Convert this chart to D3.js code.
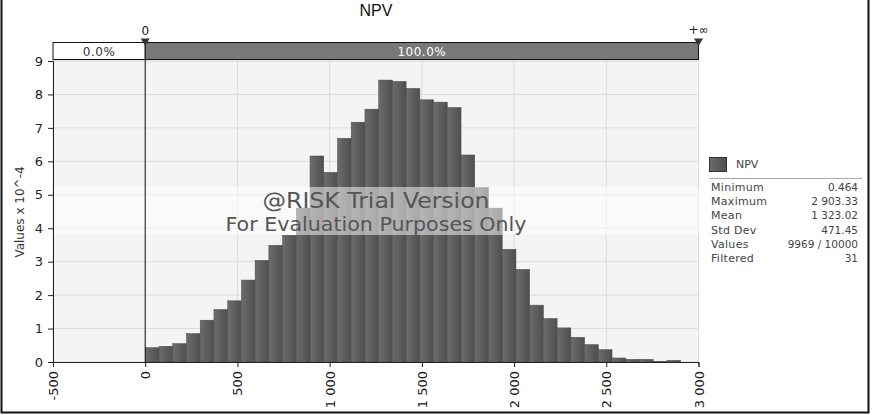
<!DOCTYPE html>
<html>
<head>
<meta charset="utf-8">
<script src="https://cdn.jsdelivr.net/npm/d3@7"></script>
<style>
  body { margin: 0; background: #fff; }
  svg { display: block; font-family: "DejaVu Sans", Verdana, sans-serif; }
</style>
</head>
<body>
<div class="plot"></div>
<script>
// histogram data (values x 10^-4 per bin)
const binLow = 0.464;
const binHigh = 2903.33;
const density = [0.43, 0.47, 0.55, 0.85, 1.25, 1.57, 1.83, 2.45, 3.04, 3.49,
                 3.79, 4.60, 6.16, 5.67, 6.69, 7.17, 7.56, 8.43, 8.39, 8.18,
                 7.84, 7.77, 7.61, 6.19, 5.22, 4.60, 3.37, 2.77, 1.70, 1.30,
                 1.02, 0.74, 0.52, 0.37, 0.12, 0.08, 0.08, 0.02, 0.05];
const xTicks = [-500, 0, 500, 1000, 1500, 2000, 2500, 3000];
const yTicks = [0, 1, 2, 3, 4, 5, 6, 7, 8, 9];
const delimiters = [0, 3000];
const delimiterLabels = ["0", "+\u221e"];
const pctLabels = ["0.0%", "100.0%"];
const statLabels = ["Minimum", "Maximum", "Mean", "Std Dev", "Values", "Filtered"];
const statValues = ["0.464", "2 903.33", "1 323.02", "471.45", "9969 / 10000", "31"];

const W = 872, H = 415;
const plot = {left: 53, right: 698.5, top: 61, bottom: 362};

const svg = d3.select(".plot")
  .append("svg")
    .attr("width", W)
    .attr("height", H);

const x = d3.scaleLinear().domain([-500, 3000]).range([plot.left, plot.right]);
const y = d3.scaleLinear().domain([0, 9]).range([plot.bottom, plot.top]);

// bar gradient
const grad = svg.append("defs").append("linearGradient")
  .attr("id", "barGrad").attr("x1", "0").attr("x2", "1").attr("y1", "0").attr("y2", "0");
grad.append("stop").attr("offset", "0").attr("stop-color", "#6c6c6c");
grad.append("stop").attr("offset", "1").attr("stop-color", "#4f4f4f");

// plot background
svg.append("rect")
  .attr("x", plot.left).attr("y", plot.top)
  .attr("width", plot.right - plot.left).attr("height", plot.bottom - plot.top)
  .attr("fill", "#f4f4f4")
  .attr("stroke", "#dcdcdc");

// grid
svg.append("g").selectAll("line")
  .data(yTicks.slice(1))
  .join("line")
    .attr("x1", plot.left).attr("x2", plot.right)
    .attr("y1", d => y(d)).attr("y2", d => y(d))
    .attr("stroke", "#dcdcdc");
svg.append("g").selectAll("line")
  .data(xTicks.slice(1, -1))
  .join("line")
    .attr("x1", d => x(d)).attr("x2", d => x(d))
    .attr("y1", plot.top).attr("y2", plot.bottom)
    .attr("stroke", "#dcdcdc");

// bars
const bw = (binHigh - binLow) / density.length;
svg.append("g").selectAll("rect")
  .data(density)
  .join("rect")
    .attr("x", (d, i) => x(binLow + i * bw))
    .attr("width", (d, i) => x(binLow + (i + 1) * bw) - x(binLow + i * bw))
    .attr("y", d => y(d))
    .attr("height", d => plot.bottom - y(d))
    .attr("fill", "url(#barGrad)")
    .attr("stroke", "#4a4a4a")
    .attr("stroke-width", 0.5);

// watermark band + text
svg.append("rect")
  .attr("x", plot.left).attr("y", 187)
  .attr("width", plot.right - plot.left).attr("height", 48)
  .attr("fill", "#fff").attr("opacity", 0.5);
svg.append("text")
  .attr("x", 376).attr("y", 208)
  .attr("text-anchor", "middle")
  .attr("textLength", 227).attr("lengthAdjust", "spacingAndGlyphs")
  .style("font-size", "21px").style("fill", "#555")
  .text("@RISK Trial Version");
svg.append("text")
  .attr("x", 376).attr("y", 231)
  .attr("text-anchor", "middle")
  .attr("textLength", 301).attr("lengthAdjust", "spacingAndGlyphs")
  .style("font-size", "19px").style("fill", "#555")
  .text("For Evaluation Purposes Only");

// axes
const yAxis = svg.append("g")
  .attr("transform", `translate(${plot.left},0)`)
  .call(d3.axisLeft(y).tickValues(yTicks).tickSize(5).tickPadding(5));
const xAxis = svg.append("g")
  .attr("transform", `translate(0,${plot.bottom})`)
  .call(d3.axisBottom(x).tickValues(xTicks).tickSize(5)
    .tickFormat(d => String(d).replace(/\B(?=(\d{3})+$)/g, " ")));
[yAxis, xAxis].forEach(a => {
  a.select(".domain").attr("stroke", "#222");
  a.selectAll(".tick line").attr("stroke", "#222");
  a.selectAll("text").style("font-size", "13px").style("fill", "#222")
    .style("font-family", "DejaVu Sans, sans-serif");
});
xAxis.selectAll(".tick text")
  .attr("transform", "rotate(-90)")
  .attr("x", -9).attr("y", 0).attr("dy", "0.35em")
  .attr("text-anchor", "end");

svg.append("text")
  .attr("transform", "translate(24,212) rotate(-90)")
  .attr("text-anchor", "middle")
  .style("font-size", "12px").style("fill", "#333")
  .text("Values x 10^-4");

// delimiter line
svg.append("line")
  .attr("x1", x(delimiters[0])).attr("x2", x(delimiters[0]))
  .attr("y1", 42).attr("y2", plot.bottom)
  .attr("stroke", "#111");

// percentage bar on top
const pctBand = [[-500, 0], [0, 3000]];
svg.append("g").selectAll("rect")
  .data(pctBand)
  .join("rect")
    .attr("x", d => x(d[0])).attr("y", 42.5)
    .attr("width", d => x(d[1]) - x(d[0])).attr("height", 17)
    .attr("fill", (d, i) => i ? "#787878" : "#fff")
    .attr("stroke", "#111");
svg.append("g").selectAll("text")
  .data(pctBand)
  .join("text")
    .attr("x", d => (x(d[0]) + x(d[1])) / 2).attr("y", 55.5)
    .attr("text-anchor", "middle")
    .style("font-size", "12px")
    .style("letter-spacing", "0.5px")
    .style("fill", (d, i) => i ? "#fff" : "#333")
    .text((d, i) => pctLabels[i]);

// delimiter markers
const marks = svg.append("g").selectAll("g")
  .data(delimiters)
  .join("g")
    .attr("transform", d => `translate(${x(d)},0)`);
marks.append("path")
  .attr("d", "M-4.5,38.5 L4.5,38.5 L0,46 Z")
  .attr("fill", "#333");
marks.append("text")
  .attr("y", (d, i) => i ? 34 : 35)
  .attr("text-anchor", "middle")
  .style("font-size", "12px").style("fill", "#222")
  .text((d, i) => delimiterLabels[i]);

// title
svg.append("text")
  .attr("x", 376).attr("y", 16)
  .attr("text-anchor", "middle")
  .style("font-size", "16px").style("fill", "#111")
  .style("font-family", "Liberation Sans, Arial, sans-serif")
  .text("NPV");

// legend
const lg = svg.append("g").attr("transform", "translate(709,0)");
lg.append("rect")
  .attr("x", 0.5).attr("y", 157.5).attr("width", 17).attr("height", 14)
  .attr("fill", "url(#barGrad)").attr("stroke", "#333");
lg.append("text")
  .attr("x", 27).attr("y", 168)
  .style("font-size", "11px").style("fill", "#444")
  .text("NPV");
lg.append("line")
  .attr("x1", 0).attr("x2", 153).attr("y1", 178.5).attr("y2", 178.5)
  .attr("stroke", "#aaa");
const rows = lg.selectAll(".row")
  .data(statLabels)
  .join("g")
    .attr("class", "row")
    .attr("transform", (d, i) => `translate(0,${191 + i * 14.2})`);
rows.append("text")
  .attr("x", 2)
  .style("font-size", "11px").style("fill", "#444")
  .style("letter-spacing", "0.3px")
  .text(d => d);
rows.append("text")
  .attr("x", 149)
  .attr("text-anchor", "end")
  .style("font-size", "10.5px").style("fill", "#444")
  .text((d, i) => statValues[i]);

// outer frame
svg.append("path")
  .attr("d", `M1.5,0 L1.5,${H - 2.5} L${W - 3.5},${H - 2.5} L${W - 3.5},0`)
  .attr("fill", "none")
  .attr("stroke", "#111")
  .attr("stroke-width", 2);
</script>
</body>
</html>
